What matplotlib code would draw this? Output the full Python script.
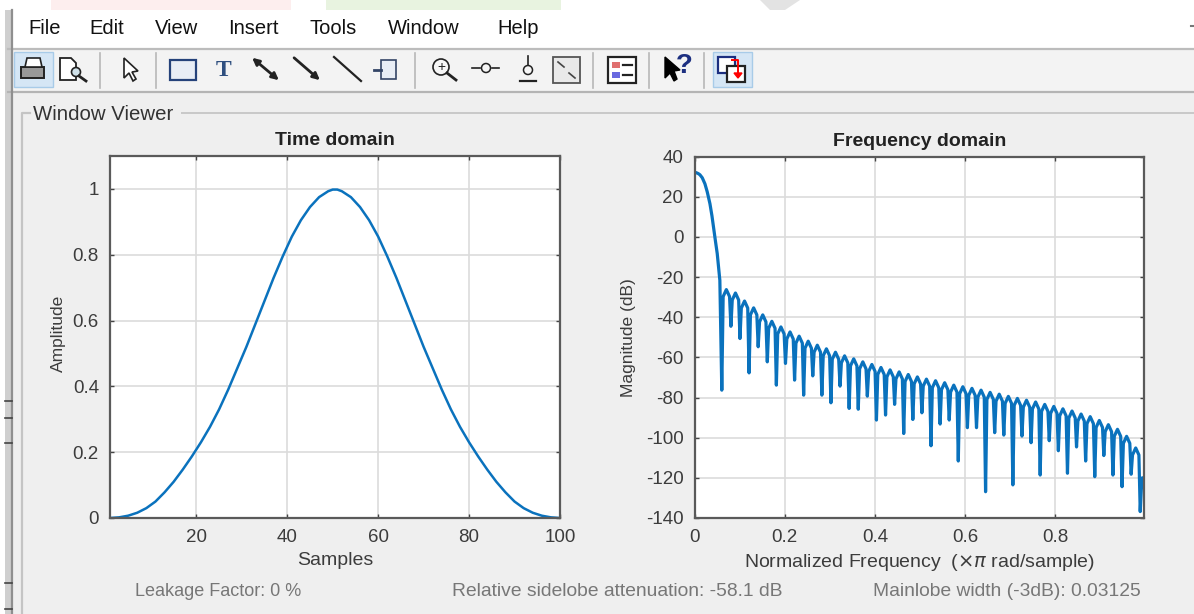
import matplotlib
matplotlib.use('Agg')
import matplotlib.pyplot as plt
import numpy as np
from matplotlib.patches import Rectangle, Polygon, Circle

plt.rcParams['font.family'] = ['Liberation Sans', 'DejaVu Sans']
plt.rcParams['mathtext.fontset'] = 'dejavusans'
plt.rcParams['axes.unicode_minus'] = False

W, H = 1194, 614

# time domain
samples = [1, 3, 5, 7, 9, 11, 13, 15, 17, 19, 21, 23, 25, 27, 29, 31, 33, 35, 37, 39, 41, 43, 45, 47, 49, 50,
           51, 52, 54, 56, 58, 60, 62, 64, 66, 68, 70, 72, 74, 76, 78, 80, 82, 84, 86, 88, 90, 92, 94, 96, 98, 100]
amplitude = [0, .002, .007, .016, .03, .05, .078, .11, .147, .187, .23, .277, .33, .39, .455, .52, .59, .66,
             .73, .795, .855, .905, .945, .975, .993, .998,
             .998, .993, .975, .945, .905, .855, .795, .73, .66, .59, .52, .455, .39, .33, .277, .23, .187,
             .147, .11, .078, .05, .03, .016, .007, .002, 0]

# frequency domain: main lobe
main_freq = [0, .004, .008, .0118, .017, .0229, .028, .034, .0385, .0428, .0465, .0502, .056]
main_db = [32.3, 32.0, 31.6, 31.0, 29.5, 26.5, 22.5, 16.6, 10.5, 3.3, -2.5, -8.3, -21.6]

# sidelobes: null, rising shoulder, peak, falling shoulder
null_freq = [.0603, .0805, .1006, .1208, .1410, .1612, .1813, .2015, .2217, .2418, .2620, .2822,
             .3023, .3225, .3427, .3629, .3830, .4032, .4234, .4435, .4637, .4839, .5040, .5242,
             .5444, .5646, .5847, .6049, .6251, .6452, .6654, .6856, .7057, .7259, .7461, .7663,
             .7864, .8066, .8268, .8469, .8671, .8873, .9074, .9276, .9478, .9680, .9881]
rise_freq = [.0633, .0835, .1036, .1238, .1440, .1642, .1843, .2045, .2247, .2448, .2650, .2852,
             .3053, .3255, .3457, .3659, .3860, .4062, .4264, .4465, .4667, .4869, .5070, .5272,
             .5474, .5676, .5877, .6079, .6281, .6482, .6684, .6886, .7087, .7289, .7491, .7693,
             .7894, .8096, .8298, .8499, .8701, .8903, .9104, .9306, .9508, .9710]
peak_freq = [.0704, .0906, .1107, .1309, .1511, .1713, .1914, .2116, .2318, .2519, .2721, .2923,
             .3124, .3326, .3528, .3730, .3931, .4133, .4335, .4536, .4738, .4940, .5141, .5343,
             .5545, .5747, .5948, .6150, .6352, .6553, .6755, .6957, .7158, .7360, .7562, .7764,
             .7965, .8167, .8369, .8570, .8772, .8974, .9175, .9377, .9579, .9781]
fall_freq = [.0775, .0977, .1178, .1380, .1582, .1784, .1985, .2187, .2389, .2590, .2792, .2994,
             .3195, .3397, .3599, .3801, .4002, .4204, .4406, .4607, .4809, .5011, .5212, .5414,
             .5616, .5818, .6019, .6221, .6423, .6624, .6826, .7028, .7229, .7431, .7633, .7835,
             .8036, .8238, .8440, .8641, .8843, .9045, .9246, .9448, .9650, .9852]
null_db = [-76.3, -44.5, -50.6, -67.7, -54.7, -62.2, -73.8, -63.0, -71.3, -78.8, -69.2, -78.8,
           -82.6, -74.3, -85.4, -85.8, -79.3, -91.2, -88.7, -83.4, -97.9, -90.9, -87.6, -104.0,
           -93.2, -91.2, -111.6, -95.0, -95.0, -126.9, -97.5, -98.7, -123.5, -99.2, -102.5, -118.6,
           -101.5, -106.5, -117.7, -104.6, -111.6, -119.4, -108.9, -118.6, -124.4, -118.2, -136.8]
peak_db = [-26.2, -27.9, -31.9, -35.3, -38.8, -42.0, -44.8, -47.3, -49.4, -51.9, -53.9, -55.7,
           -57.4, -59.2, -60.7, -62.2, -63.5, -65.0, -66.2, -67.2, -68.5, -69.7, -70.8, -71.6,
           -72.6, -73.8, -74.6, -75.4, -76.3, -77.4, -78.3, -79.4, -80.4, -81.3, -82.2, -83.4,
           -84.4, -85.6, -86.7, -88.2, -89.5, -91.4, -93.5, -95.8, -99.3, -105.1]
shoulder_db = [-29.7, -31.4, -35.4, -38.8, -42.3, -45.5, -48.3, -50.8, -52.9, -55.4, -57.4, -59.2,
               -60.9, -62.7, -64.2, -65.7, -67.0, -68.5, -69.7, -70.7, -72.0, -73.2, -74.3, -75.1,
               -76.1, -77.3, -78.1, -78.9, -79.8, -80.9, -81.8, -82.9, -83.9, -84.8, -85.7, -86.9,
               -87.9, -89.1, -90.2, -91.7, -93.0, -94.9, -97.0, -99.3, -102.8, -108.6]
tail_freq = [.9905, .9925, .9990, .9990]
tail_db = [-126.0, -120.0, -120.0, -127.0]

menu_items = ['File', 'Edit', 'View', 'Insert', 'Tools', 'Window', 'Help']
menu_x = [28, 89, 155, 228, 309, 388, 497]
separators = [100, 156, 415, 593, 649, 704]
edge_marks = [401, 418, 443, 583, 609]

BLUE = '#0a72bd'
TICK = '#3c3c3c'


def px_axes(fig, left, top, right, bottom):
    return fig.add_axes([left / W, 1 - bottom / H, (right - left) / W, (bottom - top) / H])


def style(ax):
    ax.grid(True, color='#dcdcdc', lw=1.2)
    ax.set_axisbelow(True)
    ax.tick_params(direction='in', length=3, width=1, color='#444444', labelcolor=TICK,
                   labelsize=13.5, top=True, right=True, pad=8)
    for s in ax.spines.values():
        s.set_color('#5a5a5a')
        s.set_linewidth(1.6)


def draw_chrome(bg):
    bg.add_patch(Rectangle((0, 0), W, H, fc='white', ec='none'))
    # faint page watermark above the window
    bg.add_patch(Rectangle((51, 0), 240, 10, fc='#fdeeee', ec='none'))
    bg.add_patch(Rectangle((326, 0), 235, 10, fc='#e8f3e0', ec='none'))
    bg.add_patch(Polygon([[760, 0], [800, 0], [785, 10], [770, 10]], fc='#e3e3e3', ec='none'))
    bg.plot([1191, 1193], [26, 26], color='#777777', lw=1.5)
    # toolbar and panel
    bg.add_patch(Rectangle((8, 50), W, 42, fc='#f3f3f3', ec='none'))
    bg.add_patch(Rectangle((8, 93), W, H, fc='#efefef', ec='none'))
    bg.plot([8, W], [49, 49], color='#bcbcbc', lw=1.6)
    bg.plot([8, W], [92, 92], color='#b4b4b4', lw=1.6)
    # window edge
    bg.add_patch(Rectangle((5, 10), 6, H, fc='#cfcfcf', ec='none'))
    bg.plot([11.5, 11.5], [10, H], color='#8f8f8f', lw=1.6)
    for y in edge_marks:
        bg.plot([5, 12], [y, y], color='#444444', lw=1.2)
    # group box
    bg.plot([30, 21.5, 21.5], [113, 113, H], color='#c4c4c4', lw=1.6)
    bg.plot([182, W], [113, 113], color='#c8c8c8', lw=1.4)
    bg.text(33, 115, 'Window Viewer', fontsize=14.7, color='#333333', va='center')

    for name, x in zip(menu_items, menu_x):
        bg.text(x, 29, name, fontsize=14.5, color='#111111', va='center')
    for x in separators:
        bg.plot([x, x], [53, 88], color='#b8b8b8', lw=1.2)

    # toolbar icons, roughly
    dark = '#222222'
    for x0 in (14, 713):
        bg.add_patch(Rectangle((x0, 52), 39, 35, fc='#d5e6f5', ec='#a8cbe8', lw=1))
    bg.add_patch(Rectangle((21, 67), 23, 11, fc='#999999', ec=dark, lw=1.4))
    bg.add_patch(Polygon([[27, 58], [40, 58], [42, 67], [25, 67]], fc='white', ec=dark, lw=1.2))
    bg.add_patch(Polygon([[60, 58], [71, 58], [76, 63], [76, 80], [60, 80]], fc='white', ec=dark, lw=1.3))
    bg.add_patch(Circle((76, 72), 4.5, fc='#cfe0e8', ec=dark, lw=1.2))
    bg.plot([79, 86], [76, 81], color=dark, lw=2)
    bg.add_patch(Polygon([[124, 58], [124, 78], [129, 73], [133, 81], [136, 79], [132, 72], [138, 71]],
                         fc='white', ec=dark, lw=1.2))
    bg.add_patch(Rectangle((170, 60), 26, 20, fc='#e8edf5', ec='#25427a', lw=1.6))
    bg.text(224, 70, 'T', fontsize=17, fontweight='bold', family='Liberation Serif',
            color='#2f4f7f', ha='center', va='center')
    bg.annotate('', xy=(281, 82), xytext=(250, 56), arrowprops=dict(arrowstyle='<|-|>', color=dark, lw=2))
    bg.annotate('', xy=(322, 82), xytext=(292, 56), arrowprops=dict(arrowstyle='-|>', color=dark, lw=2))
    bg.plot([334, 361], [57, 81], color=dark, lw=1.6)
    bg.add_patch(Rectangle((381, 60), 15, 19, fc='#e8edf5', ec='#334466', lw=1.2))
    bg.plot([374, 381], [70, 70], color='#334466', lw=2)
    bg.add_patch(Circle((441, 67), 8, fc='#f6f6f6', ec=dark, lw=1.2))
    bg.plot([447, 456], [73, 80], color=dark, lw=2)
    bg.text(441, 67, '+', fontsize=10, ha='center', va='center', color=dark)
    bg.add_patch(Circle((486, 68), 4.5, fc='#f6f6f6', ec=dark, lw=1.1))
    bg.plot([472, 480], [68, 68], color=dark, lw=1.2)
    bg.plot([492, 499], [68, 68], color=dark, lw=1.2)
    bg.add_patch(Circle((528, 70), 4.5, fc='#f6f6f6', ec=dark, lw=1.1))
    bg.plot([528, 528], [56, 65], color=dark, lw=1.2)
    bg.plot([520, 536], [81, 81], color=dark, lw=1.6)
    bg.add_patch(Rectangle((553, 57), 27, 26, fc='#e9e9e9', ec='#555555', lw=1.3))
    bg.plot([558, 564], [62, 67], color='#444444', lw=1.2)
    bg.plot([575, 569], [78, 73], color='#444444', lw=1.2)
    bg.add_patch(Rectangle((608, 57), 28, 26, fc='white', ec=dark, lw=1.6))
    bg.add_patch(Rectangle((612, 62), 8, 6, fc='#e07070', ec='none'))
    bg.add_patch(Rectangle((612, 72), 8, 6, fc='#6a6ae0', ec='none'))
    bg.plot([623, 632], [65, 65], color=dark, lw=1.6)
    bg.plot([623, 632], [75, 75], color=dark, lw=1.6)
    bg.add_patch(Polygon([[665, 57], [665, 78], [670, 73], [674, 81], [677, 79], [674, 71], [680, 70]],
                         fc='black', ec='black'))
    bg.text(684, 66, '?', fontsize=20, fontweight='bold', color='#1c2f80', ha='center', va='center')
    bg.add_patch(Rectangle((718, 57), 17, 16, fc='white', ec='#1c2f80', lw=1.6))
    bg.add_patch(Rectangle((727, 66), 18, 16, fc='white', ec=dark, lw=1.6))
    bg.plot([732, 738, 738], [60, 60, 74], color='red', lw=1.4)
    bg.add_patch(Polygon([[734, 73], [742, 73], [738, 78]], fc='red', ec='red'))

    bg.text(135, 591, 'Leakage Factor: 0 %', fontsize=13, color='#777777', va='center')
    bg.text(452, 591, 'Relative sidelobe attenuation: -58.1 dB', fontsize=13.9, color='#777777', va='center')
    bg.text(873, 591, 'Mainlobe width (-3dB): 0.03125', fontsize=13.9, color='#777777', va='center')


fig = plt.figure(figsize=(W / 100, H / 100), dpi=100, facecolor='white')

bg = fig.add_axes([0, 0, 1, 1])
bg.set_xlim(0, W)
bg.set_ylim(H, 0)
bg.axis('off')
draw_chrome(bg)

# time domain
ax1 = px_axes(fig, 110, 156, 560, 518)
ax1.plot(samples, amplitude, color=BLUE, lw=1.8)
ax1.set_xlim(1, 100)
ax1.set_ylim(0, 1.1)
ax1.set_xticks([20, 40, 60, 80, 100])
ax1.set_yticks([0, .2, .4, .6, .8, 1])
ax1.set_yticklabels(['0', '0.2', '0.4', '0.6', '0.8', '1'])
ax1.set_title('Time domain', fontsize=14, fontweight='bold', color='#222222', pad=8)
ax1.set_xlabel('Samples', fontsize=14, color=TICK, labelpad=4)
ax1.set_ylabel('Amplitude', fontsize=12.5, color=TICK, labelpad=5, y=0.51)
style(ax1)

# frequency domain
lobe_freq = np.column_stack([null_freq[:-1], rise_freq, peak_freq, fall_freq]).ravel()
lobe_db = np.column_stack([null_db[:-1], shoulder_db, peak_db, shoulder_db]).ravel()
freq = np.concatenate([main_freq, lobe_freq, null_freq[-1:], tail_freq])
mag = np.concatenate([main_db, lobe_db, null_db[-1:], tail_db])

ax2 = px_axes(fig, 694.6, 156.7, 1144, 518)
ax2.plot(freq, mag, color=BLUE, lw=2.3)
ax2.set_xlim(0, 0.9965)
ax2.set_ylim(-140, 40)
ax2.set_xticks([0, .2, .4, .6, .8])
ax2.set_xticklabels(['0', '0.2', '0.4', '0.6', '0.8'])
ax2.set_yticks(np.arange(-140, 41, 20))
ax2.set_title('Frequency domain', fontsize=14, fontweight='bold', color='#222222', pad=8)
ax2.set_xlabel(r'Normalized Frequency  ($\times\pi$ rad/sample)', fontsize=14, color=TICK, labelpad=4)
ax2.set_ylabel('Magnitude (dB)', fontsize=12.5, color=TICK, labelpad=7)
style(ax2)

fig.savefig('out.png', dpi=100)
